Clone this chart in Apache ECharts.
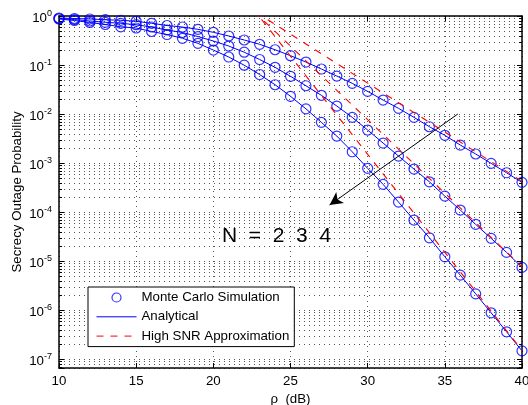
<!DOCTYPE html>
<html><head><meta charset="utf-8">
<script src="https://cdn.jsdelivr.net/npm/echarts@6/dist/echarts.min.js"></script>
<style>html,body{margin:0;padding:0;background:#fff}#c{width:528px;height:405px}</style>
</head><body><div id="c"></div>
<script>
// rho (dB) grid of the Monte Carlo / analytical curves
const snr = [10,11,12,13,14,15,16,17,18,19,20,21,22,23,24,25,26,27,28,29,30,31,32,33,34,35,36,37,38,39,40];
// Secrecy outage probability, N = 2, 3, 4 (simulation and analytical coincide)
const outageN2 = [0.91,0.889,0.869,0.840,0.817,0.780,0.710,0.640,0.596,0.535,0.465,0.391,0.324,0.2645,0.205,0.155,0.115,0.0829,0.0596,0.0423,0.0290,0.0193,0.01307,0.00856,0.00551,0.00368,0.00233,0.00153,0.000986,0.000634,0.000404];
const outageN3 = [0.889,0.848,0.791,0.744,0.710,0.664,0.596,0.518,0.461,0.381,0.309,0.244,0.1825,0.1295,0.0898,0.0588,0.0378,0.0241,0.01457,0.00856,0.00472,0.00256,0.00139,0.000754,0.000415,0.000212,0.000110,5.61e-5,2.91e-5,1.505e-5,7.44e-6];
const outageN4 = [0.869,0.809,0.737,0.671,0.602,0.569,0.483,0.419,0.351,0.277,0.202,0.1456,0.0991,0.064,0.0396,0.0230,0.01277,0.00677,0.00356,0.00170,0.000780,0.000368,0.000160,6.87e-5,2.99e-5,1.225e-5,5.18e-6,2.15e-6,8.81e-7,3.61e-7,1.477e-7];
// High SNR approximation
const snrApprox = [22,23,24,25,26,27,28,29,30,31,32,33,34,35,36,37,38,39,40];
const approxN2 = [1.70,1.07,0.676,0.427,0.269,0.170,0.107,0.0676,0.0427,0.0269,0.0170,0.0107,0.00676,0.00427,0.00269,0.00170,0.00107,0.000676,0.000427];
const approxN3 = [1.93,0.966,0.484,0.243,0.1216,0.0610,0.0305,0.01531,0.00767,0.00385,0.00193,0.000966,0.000484,0.000243,0.0001216,6.10e-5,3.05e-5,1.531e-5,7.67e-6];
const approxN4 = [2.40,0.955,0.380,0.151,0.0603,0.0240,0.00955,0.00380,0.00151,0.000603,0.000240,9.55e-5,3.80e-5,1.51e-5,6.03e-6,2.40e-6,9.55e-7,3.80e-7,1.51e-7];
// axis ranges
const xMin = 10, xMax = 40, xStep = 5;
const yMin = 6.6e-8, yMax = 1;
// arrow annotation (from, to) and label
const arrowFrom = [35.84, 0.01];
const arrowTo = [27.53, 1.39e-4];
const annotation = 'N  =  2  3  4';
const legendNames = ['Monte Carlo Simulation', 'Analytical', 'High SNR Approximation'];

const FONT = '"Liberation Sans", Arial, Helvetica, sans-serif';
const FS = 13.3;
const BLUE = '#0000ff', RED = '#ff0000';

function pairs(xs, ys) { return xs.map((x, i) => [x, ys[i]]); }

// minor log grid values 2..9 x 10^e
const minorVals = [];
for (let e = -8; e < 0; e++) {
  for (let k = 2; k <= 9; k++) {
    const v = k * Math.pow(10, e);
    if (v > yMin && v < yMax) minorVals.push([xMin, v]);
  }
}

function yLabel(v) {
  const e = Math.log10(v);
  const r = Math.round(e);
  if (Math.abs(e - r) > 1e-6) return '';
  return '{b|10}{s|' + r + '}';
}

const series = [];
// minor grid + minor ticks
series.push({
  type: 'custom', name: 'minor', silent: true, z: 1,
  data: minorVals,
  renderItem: function (params, api) {
    const v = api.value(1);
    const p0 = api.coord([xMin, v]);
    const p1 = api.coord([xMax, v]);
    const y = Math.round(p0[1]) + 0.5;
    return {
      type: 'group', children: [
        { type: 'line', shape: { x1: p0[0], y1: y, x2: p1[0], y2: y }, style: { stroke: '#555', lineWidth: 1, lineDash: [1, 4] } },
        { type: 'line', shape: { x1: p0[0], y1: y, x2: p0[0] + 3, y2: y }, style: { stroke: '#000', lineWidth: 1 } },
        { type: 'line', shape: { x1: p1[0] - 3, y1: y, x2: p1[0], y2: y }, style: { stroke: '#000', lineWidth: 1 } }
      ]
    };
  }
});

[outageN2, outageN3, outageN4].forEach(function (vals) {
  series.push({
    type: 'line', name: legendNames[1], data: pairs(snr, vals),
    symbol: 'none', lineStyle: { color: BLUE, width: 1 }, itemStyle: { color: BLUE }, z: 3
  });
});
[outageN2, outageN3, outageN4].forEach(function (vals) {
  series.push({
    type: 'scatter', name: legendNames[0], data: pairs(snr, vals),
    symbol: 'circle', symbolSize: 10,
    itemStyle: { color: 'rgba(0,0,0,0)', borderColor: BLUE, borderWidth: 1.2 }, z: 4
  });
});
[approxN2, approxN3, approxN4].forEach(function (vals, i) {
  const s = {
    type: 'line', name: legendNames[2], data: pairs(snrApprox, vals),
    symbol: 'none', clip: true,
    lineStyle: { color: RED, width: 1.1, type: [7, 7] }, itemStyle: { color: RED }, z: 5
  };
  if (i === 0) {
    s.markLine = {
      silent: true, animation: false,
      symbol: ['none', 'arrow'], symbolSize: [10, 13],
      label: { show: false },
      lineStyle: { color: '#000', width: 1, type: 'solid' },
      itemStyle: { color: '#000' },
      data: [[{ coord: arrowFrom }, { coord: arrowTo }]]
    };
  }
  series.push(s);
});

const chart = echarts.init(document.getElementById('c'), null, { renderer: 'canvas' });
chart.setOption({
  animation: false,
  backgroundColor: '#fff',
  textStyle: { fontFamily: FONT },
  grid: { left: 59, right: 6, top: 16, bottom: 37, containLabel: false, outerBoundsMode: 'none' },
  xAxis: [{
    type: 'value', min: xMin, max: xMax, interval: xStep,
    name: 'ρ  (dB)', nameLocation: 'middle', nameGap: 22,
    nameTextStyle: { color: '#000', fontSize: FS, fontFamily: FONT },
    axisLine: { lineStyle: { color: '#000', width: 1.5 } },
    axisTick: { inside: true, length: 5, lineStyle: { color: '#000' } },
    axisLabel: { color: '#000', fontSize: FS, margin: 7, fontFamily: FONT },
    splitLine: { show: true, lineStyle: { color: '#555', width: 1, type: [1, 4] } }
  }, {
    type: 'value', min: xMin, max: xMax, interval: xStep, position: 'top',
    axisLine: { lineStyle: { color: '#000', width: 1.5 } },
    axisTick: { inside: true, length: 5, lineStyle: { color: '#000' } },
    axisLabel: { show: false }, splitLine: { show: false }
  }],
  yAxis: [{
    type: 'log', min: yMin, max: yMax, logBase: 10,
    name: 'Secrecy Outage Probability', nameLocation: 'middle', nameGap: 35,
    nameMoveOverlap: false,
    nameTextStyle: { color: '#000', fontSize: FS, fontFamily: FONT },
    axisLine: { lineStyle: { color: '#000', width: 1.5 } },
    axisTick: { inside: true, length: 5, lineStyle: { color: '#000' } },
    axisLabel: {
      color: '#000', margin: 7, formatter: yLabel, padding: [4, 0, 0, 0],
      rich: {
        b: { fontSize: FS, fontFamily: FONT, color: '#000' },
        s: { fontSize: 9, fontFamily: FONT, color: '#000', padding: [0, 0, 9, 0] }
      }
    },
    splitLine: { show: true, lineStyle: { color: '#555', width: 1, type: [1, 4] } }
  }, {
    type: 'log', min: yMin, max: yMax, logBase: 10, position: 'right',
    axisLine: { lineStyle: { color: '#000', width: 1.5 } },
    axisTick: { inside: true, length: 5, lineStyle: { color: '#000' } },
    axisLabel: { show: false }, splitLine: { show: false }
  }],
  legend: {
    orient: 'vertical', left: 88, top: 287,
    padding: [4, 5, 4, 8], itemWidth: 40, itemHeight: 9, itemGap: 6.3,
    backgroundColor: '#fff', borderColor: '#000', borderWidth: 1,
    selectedMode: false,
    lineStyle: { width: 1, color: 'inherit', type: 'inherit' },
    textStyle: { color: '#000', fontSize: FS, fontFamily: FONT },
    data: [
      { name: legendNames[0], itemStyle: { borderWidth: 1.2 } },
      { name: legendNames[1], itemStyle: { opacity: 0 } },
      { name: legendNames[2], itemStyle: { opacity: 0 } }
    ]
  },
  graphic: [{
    type: 'text', left: 222, top: 226, z: 10,
    style: { text: annotation, font: '21px ' + FONT, fill: '#000' }
  }],
  series: series
});
</script>
</body></html>
